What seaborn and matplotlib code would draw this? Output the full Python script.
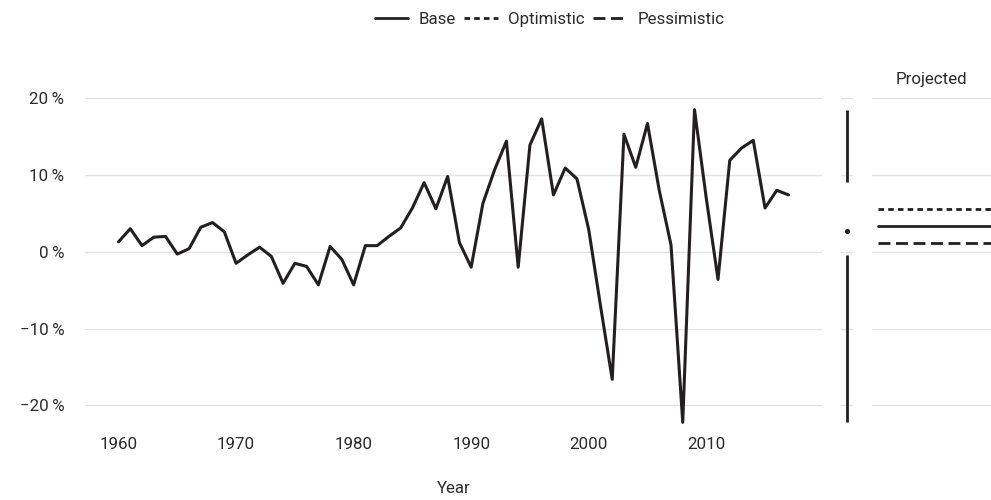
import numpy as np
import pandas as pd
import matplotlib
matplotlib.use("Agg")
import matplotlib.pyplot as plt
import seaborn as sns
from matplotlib.lines import Line2D
from matplotlib.ticker import FuncFormatter, FixedLocator

# Annual growth series, 1960-2017 (percent)
years = list(range(1960, 2018))
growth = [
    1.3, 3.0, 0.8, 1.9, 2.0, -0.3, 0.4, 3.2, 3.8, 2.6,
    -1.5, -0.4, 0.6, -0.6, -4.1, -1.5, -1.9, -4.3, 0.7, -1.0,
    -4.3, 0.8, 0.8, 2.0, 3.1, 5.7, 9.0, 5.6, 9.8, 1.2,
    -2.0, 6.3, 10.7, 14.4, -2.0, 13.9, 17.3, 7.4, 10.9, 9.5,
    2.9, -7.0, -16.6, 15.3, 11.0, 16.7, 8.0, 0.9, -22.2, 18.5,
    7.0, -3.6, 11.9, 13.5, 14.5, 5.7, 8.0, 7.4,
]

# Projection scenarios (percent per year)
scenarios = ["Base", "Optimistic", "Pessimistic"]
scenario_values = [3.3, 5.6, 1.1]
projection_span = [2018, 2030]

y_ticks = [-20, -10, 0, 10, 20]
x_ticks = [1960, 1970, 1980, 1990, 2000, 2010]

INK = "#231f20"
GRID = "#e2e2e2"
TEXT = "#2b2b2b"
FS = 12.2

sns.set_theme(style="white")
plt.rcParams["font.family"] = ["Roboto", "DejaVu Sans"]
plt.rcParams["text.color"] = TEXT
plt.rcParams["axes.labelcolor"] = TEXT
plt.rcParams["xtick.color"] = TEXT
plt.rcParams["ytick.color"] = TEXT

scenario_dashes = {"Base": "", "Optimistic": (2.0, 1.5), "Pessimistic": (4.3, 2.0)}

fig = plt.figure(figsize=(9.91, 5.0), dpi=100)
ax_main = fig.add_axes([0.0858, 0.124, 0.7437, 0.688])
ax_box = fig.add_axes([0.8486, 0.124, 0.0121, 0.688], sharey=ax_main)
ax_proj = fig.add_axes([0.8799, 0.124, 0.1201, 0.688], sharey=ax_main)

# Historical series
hist = pd.DataFrame({"Year": years, "Growth": growth})
sns.lineplot(data=hist, x="Year", y="Growth", ax=ax_main, color=INK,
             linewidth=2.2, legend=False)

# Range summary: whiskers from extremes to quartiles, dot at the median
vals = np.array(growth)
q1, med, q3 = np.percentile(vals, [25, 50, 75], method="weibull")
ax_box.vlines(0, q3, vals.max(), color=INK, linewidth=2.0)
ax_box.vlines(0, vals.min(), q1, color=INK, linewidth=2.0)
sns.scatterplot(x=[0], y=[med], ax=ax_box, color=INK, s=14, linewidth=0)
ax_box.set_xlim(-1, 1)

# Projection scenarios
proj = pd.DataFrame({
    "Year": [y for _ in scenarios for y in projection_span],
    "Growth": [v for v in scenario_values for _ in projection_span],
    "Scenario": [s for s in scenarios for _ in projection_span],
})
sns.lineplot(data=proj, x="Year", y="Growth", style="Scenario",
             dashes=scenario_dashes, color=INK, linewidth=2.0,
             ax=ax_proj, legend=False)
ax_proj.set_xlim(2017.4, 2030)
ax_proj.set_title("Projected", fontsize=FS, color=TEXT, pad=7)

def pct(v, _):
    s = f"{abs(v):.0f}\u2009%"
    return ("\u2212" + s) if v < 0 else s

for ax in (ax_main, ax_box, ax_proj):
    for sp in ax.spines.values():
        sp.set_visible(False)
    ax.yaxis.set_major_locator(FixedLocator(y_ticks))
    ax.yaxis.grid(True, color=GRID, linewidth=1.0)
    ax.xaxis.grid(False)
    ax.tick_params(length=0)
    ax.set_ylabel("")

ax_main.yaxis.set_major_formatter(FuncFormatter(pct))
ax_main.tick_params(axis="y", labelsize=FS, pad=15)
ax_main.set_xticks(x_ticks)
ax_main.tick_params(axis="x", labelsize=FS, pad=-1)
ax_main.set_xlabel("Year", fontsize=FS, labelpad=21)

for ax in (ax_box, ax_proj):
    ax.tick_params(labelleft=False, labelbottom=False)
    ax.set_xlabel("")
    ax.set_xticks([])

handles = [
    Line2D([], [], color=INK, linewidth=2.0,
           linestyle="-" if scenario_dashes[s] == "" else (0, scenario_dashes[s]))
    for s in scenarios
]
fig.legend(handles, scenarios, loc="upper center", bbox_to_anchor=(0.5545, 1.007),
           ncol=3, frameon=False, fontsize=FS, handlelength=2.0,
           handletextpad=0.6, columnspacing=0.5)

fig.savefig("out.png", dpi=100, facecolor="white")
